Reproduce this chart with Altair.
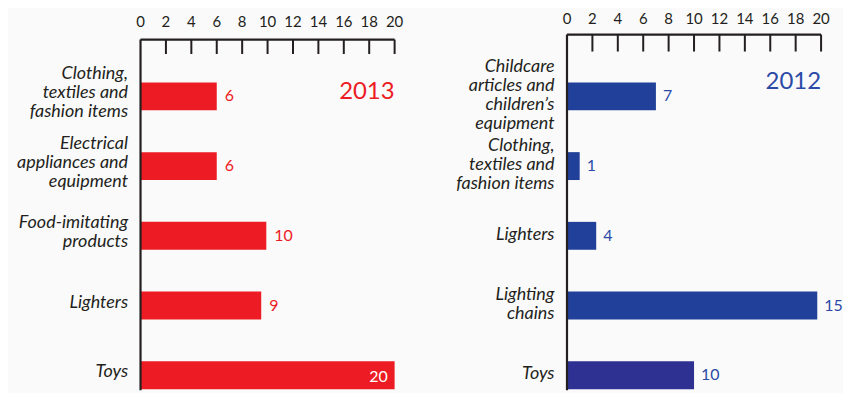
import altair as alt
import pandas as pd

# ---- data ----
cats_2013 = [
    "Clothing,\ntextiles  and\nfashion items",
    "Electrical\nappliances and\nequipment",
    "Food-imitating\nproducts",
    "Lighters",
    "Toys",
]
bars_2013 = [6.0, 6.0, 9.9, 9.5, 20.0]
labels_2013 = ["6", "6", "10", "9", "20"]

cats_2012 = [
    "Childcare\narticles and\nchildren\u2019s\nequipment",
    "Clothing,\ntextiles and\nfashion items",
    "Lighters",
    "Lighting\nchains",
    "Toys",
]
bars_2012 = [7.0, 1.0, 2.3, 19.7, 10.0]
labels_2012 = ["7", "1", "4", "15", "10"]

tick_values = [0, 2, 4, 6, 8, 10, 12, 14, 16, 18, 20]
years = ["2013", "2012"]

W = 255
H = 352
DARK = "#231F20"
FONT = "Lato"
LH = 19

xscale = alt.Scale(domain=[0, 20], nice=False, zero=True)


def label_offset(base):
    nl = "length(split(datum.value, '\\n'))"
    return {
        "condition": [
            {"test": f"{nl} == 4", "value": base - 3 * LH / 2},
            {"test": f"{nl} == 3", "value": base - 2 * LH / 2},
            {"test": f"{nl} == 2", "value": base - 1 * LH / 2},
        ],
        "value": base,
    }


def panel(cats, bars, labels, year, main_color, alt_color, text_color,
          line_top, tick_bottom, ticklabel_y, label_dx, year_y, base_offset,
          extent):
    df = pd.DataFrame({"cat": cats, "value": bars, "label": labels})
    ticks_df = pd.DataFrame({"t": tick_values})
    inner_ticks = pd.DataFrame({"t": [t for t in tick_values if t > 0]})
    year_df = pd.DataFrame({"year": [year]})

    yenc = alt.Y(
        "cat:N",
        sort=cats,
        title=None,
        scale=alt.Scale(paddingInner=0.6, paddingOuter=0.315, align=0.975),
        axis=alt.Axis(
            domain=False, ticks=False, labelPadding=13,
            labelFont=FONT, labelFontStyle="italic", labelFontSize=18,
            labelColor=DARK, labelLineHeight=LH,
            labelExpr="split(datum.label, '\\n')",
            labelOffset=label_offset(base_offset), labelLimit=extent,
            minExtent=extent, maxExtent=extent,
        ),
    )
    xenc = alt.X("value:Q", scale=xscale, axis=None)

    bars_layer = alt.Chart(df).mark_bar(height=28).encode(
        x=xenc, y=yenc,
        color=alt.condition(alt.datum.cat == "Toys", alt.value(alt_color),
                            alt.value(main_color)),
    )
    out_labels = alt.Chart(df).transform_filter("datum.value < 20").mark_text(
        align="left", baseline="middle", dx=label_dx, font=FONT,
        fontSize=16, color=text_color,
    ).encode(x=xenc, y=yenc, text="label:N")
    in_labels = alt.Chart(df).transform_filter("datum.value >= 20").mark_text(
        align="right", baseline="middle", dx=-7, dy=2, font=FONT,
        fontSize=16, color="white",
    ).encode(x=xenc, y=yenc, text="label:N")

    top_line = alt.Chart(year_df).mark_rule(color=DARK, strokeWidth=2.2).encode(
        x=alt.value(0), x2=alt.value(W), y=alt.value(line_top))
    left_line = alt.Chart(year_df).mark_rule(color=DARK, strokeWidth=2.2).encode(
        x=alt.value(0), y=alt.value(line_top), y2=alt.value(H))
    tick_marks = alt.Chart(inner_ticks).mark_rule(color=DARK, strokeWidth=2).encode(
        x=alt.X("t:Q", scale=xscale, axis=None),
        y=alt.value(line_top), y2=alt.value(tick_bottom))
    tick_text = alt.Chart(ticks_df).mark_text(
        baseline="middle", align="center", font=FONT, fontSize=15, color=DARK,
    ).encode(x=alt.X("t:Q", scale=xscale, axis=None),
             y=alt.value(ticklabel_y), text="t:Q")
    year_text = alt.Chart(year_df).mark_text(
        align="right", baseline="alphabetic", font=FONT, fontSize=24,
        color=text_color,
    ).encode(x=alt.value(W), y=alt.value(year_y), text="year:N")

    return alt.layer(
        bars_layer, out_labels, in_labels, left_line, top_line,
        tick_marks, tick_text, year_text,
    ).properties(width=W, height=H)


left = panel(cats_2013, bars_2013, labels_2013, years[0], "#ED1C24", "#ED1C24",
             "#ED1C24", 0, 14.5, -17.5, 8, 60, -3, 133)
right = panel(cats_2012, bars_2012, labels_2012, years[1], "#21409A", "#2E3192",
              "#2B4AA6", -5, 12, -21, 7, 50, -1, 100)

chart = alt.hconcat(left, right, spacing=52).properties(
    padding={"top": 3, "left": 0, "right": 0, "bottom": 0},
    background="#FAFAFA",
).configure_view(stroke=None)

chart.save("out.html", embed_options={"renderer": "svg", "actions": False})
